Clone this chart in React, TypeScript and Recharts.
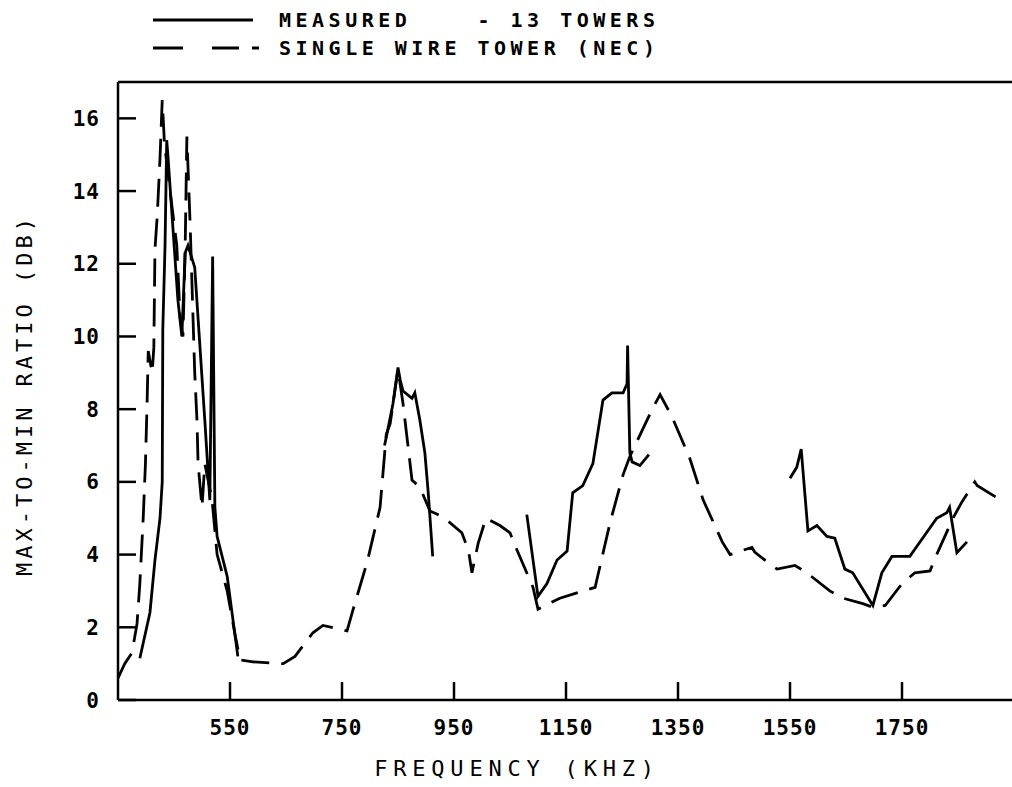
import { LineChart, Line, XAxis, YAxis, Label } from 'recharts';

const FONT = '"DejaVu Sans Mono", "Liberation Mono", monospace';

// [frequency kHz, max-to-min ratio dB]
const measuredLow = [
  [389, 1.15], [407, 2.4], [416, 3.85], [425, 5.0], [429, 6.0], [430, 10.2],
  [434, 12.5], [437, 15.4], [439, 15.0], [457, 11.0], [464, 10.0], [470, 12.3],
  [475, 12.5], [487, 11.9], [505, 7.7], [514, 5.5], [519, 12.2], [523, 5.3],
  [527, 4.5], [545, 3.4], [564, 1.2],
];
const measuredMid = [
  [826, 7.0], [830, 7.3], [841, 8.15], [850, 9.15], [854, 8.8], [859, 8.5],
  [875, 8.3], [880, 8.45], [889, 7.7], [898, 6.8], [904, 5.7], [912, 3.95],
];
const measuredHigh = [
  [1080, 5.1], [1100, 2.85], [1116, 3.2], [1134, 3.85], [1152, 4.1], [1162, 5.7],
  [1180, 5.9], [1198, 6.5], [1216, 8.25], [1232, 8.45], [1252, 8.45], [1259, 8.7],
  [1260, 9.75], [1264, 6.8], [1268, 6.55], [1282, 6.45], [1298, 6.75],
];
const measuredTop = [
  [1550, 6.1], [1562, 6.4], [1570, 6.9], [1582, 4.65], [1598, 4.8], [1616, 4.5],
  [1630, 4.45], [1648, 3.6], [1662, 3.5], [1698, 2.6], [1714, 3.5], [1732, 3.95],
  [1764, 3.95], [1812, 5.0], [1830, 5.15], [1835, 5.3], [1848, 4.05], [1866, 4.35],
];
const singleWire = [
  [350, 0.6], [362, 1.0], [375, 1.3], [384, 2.1], [389, 3.2], [395, 5.0], [399, 6.5],
  [402, 8.2], [404, 9.6], [411, 9.0], [414, 9.7], [416, 12.4], [420, 13.3], [425, 14.9],
  [429, 16.5], [433, 15.3], [443, 14.0], [455, 12.5], [461, 10.5], [466, 10.0],
  [470, 12.5], [473, 15.5], [479, 13.0], [482, 11.5], [487, 9.0], [491, 7.7], [493, 6.5],
  [500, 5.3], [505, 6.5], [518, 5.5], [527, 4.0], [545, 3.0], [559, 1.8], [568, 1.1],
  [591, 1.05], [645, 1.0], [666, 1.2], [698, 1.85], [716, 2.05], [759, 1.9], [770, 2.5],
  [795, 3.8], [818, 5.3], [829, 7.3], [836, 7.6], [850, 9.1], [859, 8.15], [875, 6.05],
  [889, 5.85], [907, 5.2], [921, 5.1], [937, 4.95], [964, 4.6], [976, 4.1], [982, 3.5],
  [993, 4.3], [1007, 5.0], [1032, 4.8], [1050, 4.6], [1059, 4.25], [1091, 3.1],
  [1100, 2.5], [1139, 2.8], [1202, 3.1], [1205, 3.3], [1229, 4.9], [1252, 6.2],
  [1264, 6.7], [1304, 8.0], [1318, 8.4], [1339, 7.8], [1371, 6.65], [1395, 5.5],
  [1429, 4.35], [1443, 4.0], [1482, 4.2], [1487, 4.07], [1509, 3.8], [1527, 3.6],
  [1559, 3.7], [1580, 3.5], [1621, 3.0], [1645, 2.8], [1680, 2.65], [1698, 2.55],
  [1720, 2.6], [1750, 3.2], [1773, 3.5], [1800, 3.55], [1809, 3.9], [1841, 5.0],
  [1857, 5.45], [1880, 6.0], [1884, 5.9], [1921, 5.55],
];

const xTicks = [550, 750, 950, 1150, 1350, 1550, 1750];
const yTicks = [0, 2, 4, 6, 8, 10, 12, 14, 16];

const toRows = (pts: number[][]) => pts.map(([f, db]) => ({ f, db }));

function XTick({ x, y, payload }: any) {
  return (
    <text x={x} y={y} dy="0.71em" textAnchor="middle" fontFamily={FONT} fontSize={21}
      fontWeight="bold" letterSpacing={1} fill="#000">
      {payload.value}
    </text>
  );
}

function YTick({ x, y, payload }: any) {
  return (
    <text x={x} y={y} dy="0.36em" textAnchor="end" fontFamily={FONT} fontSize={21}
      fontWeight="bold" letterSpacing={1} fill="#000">
      {payload.value}
    </text>
  );
}

function Legend() {
  const txt = { fontFamily: FONT, fontSize: 20, fontWeight: 'bold' as const, letterSpacing: 4.5, fill: '#000' };
  return (
    <svg width={700} height={70} style={{ position: 'absolute', left: 0, top: 0 }}>
      <line x1={153} y1={20} x2={253} y2={20} stroke="#000" strokeWidth={3} />
      <text x={279} y={20} dy="0.36em" {...txt} xmlSpace="preserve" style={{ whiteSpace: 'pre' }}>
        {'MEASURED    - 13 TOWERS'}
      </text>
      <line x1={153} y1={48} x2={183} y2={48} stroke="#000" strokeWidth={3} />
      <line x1={212} y1={48} x2={239} y2={48} stroke="#000" strokeWidth={3} />
      <line x1={252} y1={48} x2={259} y2={48} stroke="#000" strokeWidth={3} />
      <text x={279} y={48} dy="0.36em" {...txt}>SINGLE WIRE TOWER (NEC)</text>
    </svg>
  );
}

const lineProps = {
  dataKey: 'db',
  stroke: '#000',
  strokeWidth: 2.8,
  dot: false,
  activeDot: false,
  type: 'linear' as const,
  isAnimationActive: false,
  legendType: 'none' as const,
};

export default function App() {
  return (
    <div style={{ position: 'absolute', left: 0, top: 0, width: 1012, height: 787, overflow: 'hidden', background: '#fff' }}>
      <LineChart width={1040} height={787} margin={{ top: 81, right: 16, bottom: 0, left: 0 }}>
        <XAxis dataKey="f" type="number" domain={[350, 1950]} allowDataOverflow ticks={xTicks}
          height={87} tickSize={-18} tickMargin={38} tick={<XTick />}
          axisLine={{ stroke: '#000', strokeWidth: 2.5 }} tickLine={{ stroke: '#000', strokeWidth: 2.5 }}>
          <Label content={() => (
            <text x={517} y={768} dy="0.36em" textAnchor="middle" fontFamily={FONT} fontSize={22}
              letterSpacing={5.8} fill="#000">FREQUENCY (KHZ)</text>
          )} />
        </XAxis>
        <XAxis xAxisId="top" orientation="top" dataKey="f" type="number" domain={[350, 1950]}
          allowDataOverflow ticks={xTicks} height={1} tickSize={-16} tick={false}
          axisLine={{ stroke: '#000', strokeWidth: 2.5 }} tickLine={{ stroke: '#000', strokeWidth: 2.5 }} />
        <YAxis type="number" domain={[0, 17]} allowDataOverflow ticks={yTicks} width={118}
          tickSize={-18} tickMargin={36} tick={<YTick />}
          axisLine={{ stroke: '#000', strokeWidth: 2.5 }} tickLine={{ stroke: '#000', strokeWidth: 2.5 }}>
          <Label content={() => (
            <text x={24} y={395} dy="0.36em" textAnchor="middle" transform="rotate(-90 24 395)"
              fontFamily={FONT} fontSize={22} letterSpacing={4} fill="#000">MAX-TO-MIN RATIO (DB)</text>
          )} />
        </YAxis>
        <YAxis yAxisId="right" orientation="right" type="number" domain={[0, 17]} allowDataOverflow
          ticks={yTicks} width={10} tickSize={-18} tick={false}
          axisLine={{ stroke: '#000', strokeWidth: 2.5 }} tickLine={{ stroke: '#000', strokeWidth: 2.5 }} />
        <Line {...lineProps} data={toRows(singleWire)} name="Single wire tower (NEC)" strokeDasharray="28 12" />
        <Line {...lineProps} data={toRows(measuredLow)} name="Measured - 13 towers" />
        <Line {...lineProps} data={toRows(measuredMid)} name="Measured mid" />
        <Line {...lineProps} data={toRows(measuredHigh)} name="Measured high" />
        <Line {...lineProps} data={toRows(measuredTop)} name="Measured top" />
      </LineChart>
      <Legend />
    </div>
  );
}
